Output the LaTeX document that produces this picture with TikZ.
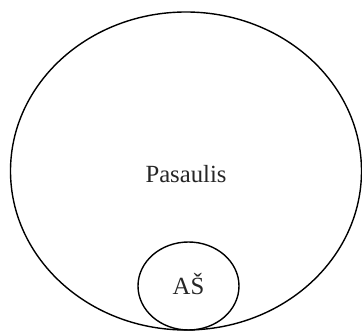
\documentclass[tikz,border=0pt]{standalone}
\usepackage{fontspec}
\setmainfont{Liberation Serif}
\usetikzlibrary{shapes.geometric}
\tikzset{
  ring/.style={ellipse, draw=black, line width=1.4pt, inner sep=0pt},
  lbl/.style={inner sep=0pt, font=\fontsize{24.7}{30}\selectfont, text=black!85}
}
\begin{document}
\begin{tikzpicture}[x=1pt,y=-1pt]
\useasboundingbox (0,0) rectangle (362,331);
\node[ring, minimum width=351pt, minimum height=318pt] (world) at (186,171) {};
\node[ring, minimum width=101pt, minimum height=88pt] (me) at (188.5,286) {};
\node[lbl] (worldtext) at (186,174.5) {Pasaulis};
\node[lbl] (metext) at (188.5,284.5) {AŠ};
\end{tikzpicture}
\end{document}
